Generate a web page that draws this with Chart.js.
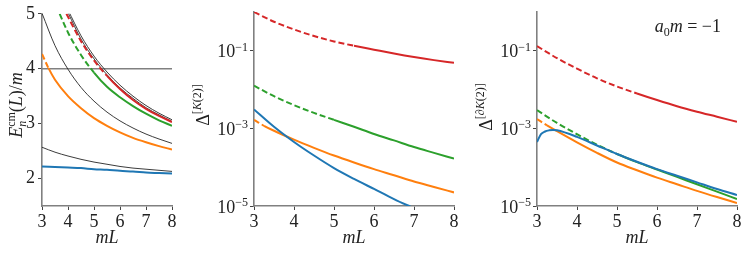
<!DOCTYPE html>
<html>
<head>
<meta charset="utf-8">
<script src="https://cdn.jsdelivr.net/npm/chart.js@4.4.0/dist/chart.umd.min.js"></script>
<style>
  body { margin: 0; background: #fff; }
  #wrap { position: relative; width: 748px; height: 255px; }
  canvas { position: absolute; top: 0; }
</style>
</head>
<body>
<div id="wrap">
  <canvas id="energyChart" width="185" height="255" style="left:0"></canvas>
  <canvas id="k2Chart" width="280" height="255" style="left:185px"></canvas>
  <canvas id="dk2Chart" width="283" height="255" style="left:465px"></canvas>
</div>
<script>
// ---- data ----
const mL = [3, 3.5, 4, 4.5, 5, 5.5, 6, 6.5, 7, 7.5, 8];
const mLOrange = [3, 3.25, 3.5, 4, 4.5, 5, 5.5, 6, 6.5, 7, 7.5, 8];
const xTicks = [3, 4, 5, 6, 7, 8];
const energyTicks = [2, 3, 4, 5];
const deltaTicks = [1e-5, 1e-3, 1e-1];
const threshold = 4;

// left panel: E_n^cm(L)/m
const freeLow = [2.57, 2.48, 2.41, 2.35, 2.30, 2.26, 2.22, 2.19, 2.17, 2.15, 2.13];
const freeMid = [5.01, 4.42, 3.99, 3.66, 3.41, 3.21, 3.05, 2.92, 2.81, 2.72, 2.64];
const mLHigh = [4, 4.5, 5, 5.5, 6, 6.5, 7, 7.5, 8];
const freeHighA = [5.02, 4.54, 4.18, 3.89, 3.65, 3.46, 3.29, 3.16, 3.04];
const freeHighB = [5.07, 4.60, 4.23, 3.94, 3.70, 3.50, 3.33, 3.19, 3.07];
const mLGreen = [3.68, 4, 4.5, 5, 5.5, 6, 6.5, 7, 7.5, 8];
const mLRed = [3.94, 4.5, 5, 5.5, 6, 6.5, 7, 7.5, 8];
const energyBlue = [2.22, 2.21, 2.20, 2.19, 2.17, 2.16, 2.14, 2.13, 2.11, 2.10, 2.09];
const energyOrange = [4.27, 4.01, 3.80, 3.50, 3.28, 3.10, 2.96, 2.84, 2.74, 2.66, 2.59, 2.53];
const energyGreen = [5.0, 4.66, 4.25, 3.93, 3.67, 3.48, 3.32, 3.18, 3.06, 2.96];
const energyRed = [5.0, 4.50, 4.15, 3.87, 3.63, 3.43, 3.27, 3.14, 3.03];

// middle panel: Delta^[K(2)]
const k2Blue = [3.09e-3, 1.10e-3, 4.47e-4, 2.0e-4, 9.5e-5, 5.0e-5, 2.75e-5, 1.51e-5, 8.7e-6];
const k2Orange = [1.66e-3, 1.17e-3, 8.7e-4, 5.13e-4, 3.16e-4, 2.0e-4, 1.32e-4, 8.9e-5, 6.2e-5, 4.27e-5, 3.09e-5, 2.24e-5];
const k2Green = [1.26e-2, 6.76e-3, 3.98e-3, 2.51e-3, 1.66e-3, 1.10e-3, 7.2e-4, 4.9e-4, 3.31e-4, 2.34e-4, 1.66e-4];
const k2Red = [1.0, 0.562, 0.355, 0.240, 0.174, 0.135, 0.107, 0.085, 0.069, 0.0575, 0.049];

// right panel: Delta^[dK(2)]
const mLBlueDK = [3, 3.1, 3.2, 3.3, 3.4, 3.5, 4, 4.5, 5, 5.5, 6, 6.5, 7, 7.5, 8];
const dkBlue = [4.47e-4, 7.08e-4, 8.32e-4, 8.91e-4, 9.12e-4, 8.91e-4, 6.03e-4, 3.63e-4, 2.19e-4, 1.38e-4, 8.91e-5, 6.03e-5, 4.07e-5, 2.75e-5, 1.91e-5];
const dkOrange = [1.74e-3, 1.20e-3, 8.51e-4, 4.37e-4, 2.34e-4, 1.32e-4, 8.32e-5, 5.37e-5, 3.63e-5, 2.45e-5, 1.70e-5, 1.20e-5];
const dkGreen = [2.95e-3, 1.38e-3, 7.08e-4, 3.80e-4, 2.19e-4, 1.35e-4, 8.71e-5, 5.62e-5, 3.63e-5, 2.34e-5, 1.51e-5];
const dkRed = [0.132, 0.0646, 0.0347, 0.0195, 0.0120, 0.00794, 0.00537, 0.00372, 0.00269, 0.00200, 0.00148];

// ---- styling ----
const serif = '"Liberation Serif", "DejaVu Serif", serif';
const ink = '#222';
const colors = { blue: '#1f77b4', orange: '#ff7f0e', green: '#2ca02c', red: '#d62728', black: '#262626', gray: '#808080' };
// dashed below these mL values (states above the inelastic threshold)
const dashUntil = { orange: 3.25, green: 5, red: 5.5 };

function pts(xs, ys) {
    return ys.map((y, i) => ({ x: xs[i], y: y }));
}

function line(xs, ys, color, width, cut) {
    const ds = {
        data: pts(xs, ys),
        borderColor: color,
        borderWidth: width,
        pointRadius: 0,
        fill: false,
        cubicInterpolationMode: 'monotone'
    };
    if (cut) ds.segment = { borderDash: c => (c.p0.parsed.x < cut - 1e-9 ? [6, 3] : undefined) };
    return ds;
}

// draw a row of text pieces (sub/superscripts), optionally rotated
function drawRich(ctx, parts, x, y, rotate, align) {
    ctx.save();
    ctx.translate(x, y);
    if (rotate) ctx.rotate(-Math.PI / 2);
    ctx.fillStyle = ink;
    ctx.textBaseline = 'alphabetic';
    ctx.textAlign = 'left';
    let w = 0;
    parts.forEach(p => { ctx.font = p.f; if (!p.skip) w += ctx.measureText(p.t).width; });
    let cx = align === 'center' ? -w / 2 : align === 'right' ? -w : 0;
    parts.forEach(p => {
        ctx.font = p.f;
        ctx.fillText(p.t, cx, p.dy || 0);
        if (!p.skip) cx += ctx.measureText(p.t).width;
    });
    ctx.restore();
}

const big = '18px ' + serif, bigIt = 'italic 18px ' + serif;
const small = '12px ' + serif, smallIt = 'italic 12px ' + serif;

const texts = {
    id: 'texts',
    afterDraw(chart, args, opts) {
        const ctx = chart.ctx, area = chart.chartArea;
        if (opts.yTitle) drawRich(ctx, opts.yTitle, area.left - opts.titleOffset, opts.titleY, true, 'center');
        if (opts.powers) {
            const s = chart.scales.y;
            deltaTicks.forEach(v => {
                const py = s.getPixelForValue(v);
                const e = '\u2212' + Math.round(-Math.log10(v));
                drawRich(ctx, [{ t: '10', f: big }, { t: e, f: small, dy: -6.5 }], area.left - 6, py + 6.5, false, 'right');
            });
        }
        if (opts.note) drawRich(ctx, opts.note, area.right - 16, 32, false, 'right');
    }
};

function xScale() {
    return {
        type: 'linear', min: 3, max: 8,
        afterBuildTicks: s => { s.ticks = xTicks.map(v => ({ value: v })); },
        grid: { drawOnChartArea: false, tickLength: 4, color: '#444' },
        border: { color: colors.gray, width: 1.6 },
        ticks: { font: { family: serif, size: 18 }, color: ink, padding: 1, maxRotation: 0 },
        title: { display: true, text: 'mL', color: ink, font: { family: serif, size: 18, style: 'italic' }, padding: { top: 0, bottom: 6 } },
        afterFit: s => { s.height = 49; }
    };
}

function logScale(width) {
    return {
        type: 'logarithmic', min: 1e-5, max: 1,
        afterBuildTicks: s => { s.ticks = deltaTicks.map(v => ({ value: v })); },
        grid: { drawOnChartArea: false, tickLength: 4, color: '#444' },
        border: { color: colors.gray, width: 1.6 },
        ticks: { display: false },
        afterFit: s => { s.width = width; }
    };
}

const base = {
    responsive: false,
    animation: false,
    events: [],
    layout: { padding: { top: 12, right: 11, bottom: 0, left: 0 } },
    plugins: { legend: { display: false }, tooltip: { enabled: false } }
};

// 1. energy levels
new Chart(document.getElementById('energyChart'), {
    type: 'line',
    data: {
        datasets: [
            line(mL, energyBlue, colors.blue, 2),
            line(mLOrange, energyOrange, colors.orange, 2, dashUntil.orange),
            line(mLGreen, energyGreen, colors.green, 2, dashUntil.green),
            line(mLRed, energyRed, colors.red, 2, dashUntil.red),
            line(mL, freeLow, colors.black, 0.9),
            line(mL, freeMid, colors.black, 0.9),
            line(mLHigh, freeHighA, colors.black, 0.9),
            line(mLHigh, freeHighB, colors.black, 0.9),
            line([3, 8], [threshold, threshold], colors.gray, 1.5)
        ]
    },
    options: {
        ...base,
        layout: { padding: { top: 12, right: 13, bottom: 0, left: 0 } },
        scales: {
            x: xScale(),
            y: {
                type: 'linear', min: 1.5, max: 5,
                afterBuildTicks: s => { s.ticks = energyTicks.map(v => ({ value: v })); },
                grid: { drawOnChartArea: false, tickLength: 4, color: '#444' },
                border: { color: colors.gray, width: 1.6 },
                ticks: { font: { family: serif, size: 18 }, color: ink, padding: 3 },
                afterFit: s => { s.width = 42; }
            }
        },
        plugins: {
            ...base.plugins,
            texts: {
                titleOffset: 20, titleY: 105,
                yTitle: [
                    { t: 'E', f: bigIt },
                    { t: 'n', f: smallIt, dy: 4, skip: true },
                    { t: 'cm', f: small, dy: -7 },
                    { t: '(', f: big }, { t: 'L', f: bigIt }, { t: ')/', f: big }, { t: 'm', f: bigIt }
                ]
            }
        }
    },
    plugins: [texts]
});

// 2. Delta^[K(2)]
new Chart(document.getElementById('k2Chart'), {
    type: 'line',
    data: {
        datasets: [
            line(mL, k2Blue, colors.blue, 2),
            line(mLOrange, k2Orange, colors.orange, 2, dashUntil.orange),
            line(mL, k2Green, colors.green, 2, dashUntil.green),
            line(mL, k2Red, colors.red, 2, dashUntil.red)
        ]
    },
    options: {
        ...base,
        scales: { x: xScale(), y: logScale(69) },
        plugins: {
            ...base.plugins,
            texts: {
                powers: true, titleOffset: 45, titleY: 105,
                yTitle: [
                    { t: '\u0394', f: big },
                    { t: '[', f: small, dy: -8 }, { t: 'K', f: smallIt, dy: -8 }, { t: '(2)]', f: small, dy: -8 }
                ]
            }
        }
    },
    plugins: [texts]
});

// 3. Delta^[dK(2)]
new Chart(document.getElementById('dk2Chart'), {
    type: 'line',
    data: {
        datasets: [
            line(mLBlueDK, dkBlue, colors.blue, 2),
            line(mLOrange, dkOrange, colors.orange, 2, dashUntil.orange),
            line(mL, dkGreen, colors.green, 2, dashUntil.green),
            line(mL, dkRed, colors.red, 2, dashUntil.red)
        ]
    },
    options: {
        ...base,
        scales: { x: xScale(), y: logScale(72) },
        plugins: {
            ...base.plugins,
            texts: {
                powers: true, titleOffset: 45, titleY: 107,
                yTitle: [
                    { t: '\u0394', f: big },
                    { t: '[\u2202', f: small, dy: -8 }, { t: 'K', f: smallIt, dy: -8 }, { t: '(2)]', f: small, dy: -8 }
                ],
                note: [
                    { t: 'a', f: bigIt }, { t: '0', f: small, dy: 4 }, { t: 'm', f: bigIt },
                    { t: ' = \u22121', f: big }
                ]
            }
        }
    },
    plugins: [texts]
});
</script>
</body>
</html>
